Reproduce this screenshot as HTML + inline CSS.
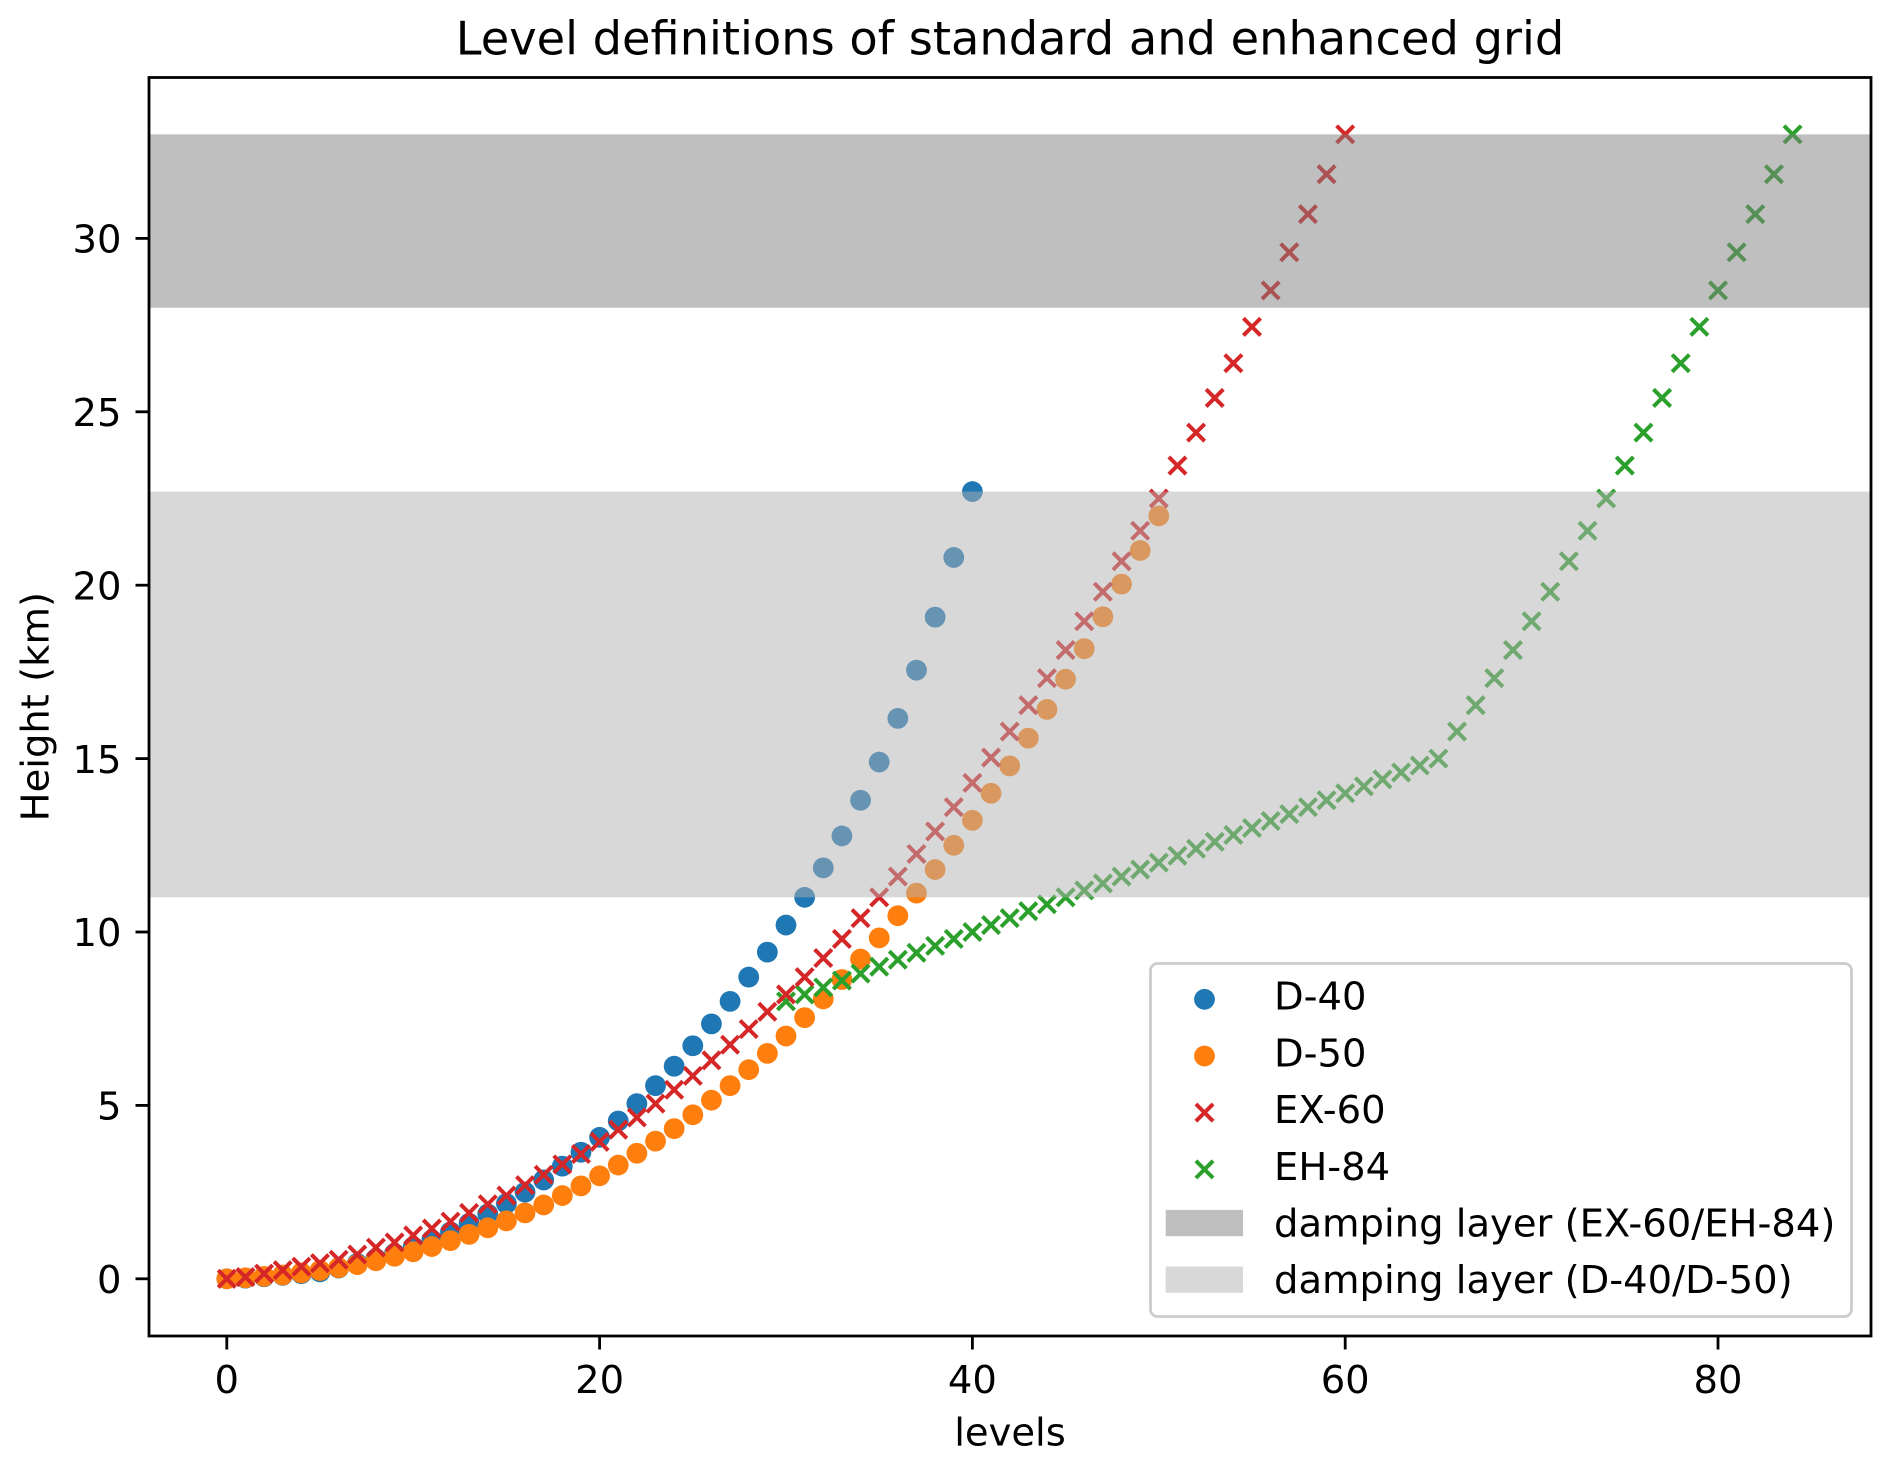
<!DOCTYPE html>
<html lang="en">
<head>
<meta charset="utf-8">
<title>Level definitions of standard and enhanced grid</title>
<style>
html,body{margin:0;padding:0;background:#fff;}
svg{display:block;}
text{font-family:"DejaVu Sans","Liberation Sans",sans-serif;fill:#000;}
</style>
</head>
<body>
<svg id="chart" xmlns="http://www.w3.org/2000/svg" width="1892" height="1465" viewBox="0 0 1892 1465">
  <rect x="0" y="0" width="1892" height="1465" fill="#ffffff"/>
  <text x="1010" y="54.5" font-size="46.3" text-anchor="middle">Level definitions of standard and enhanced grid</text>
  <rect x="149" y="77.5" width="1722" height="1258.5" fill="#ffffff"/>
  <g id="marks"></g>
  <g id="bands"></g>
  <g id="x-axis"></g>
  <g id="y-axis"></g>
  <rect x="149" y="77.5" width="1722" height="1258.5" fill="none" stroke="#000" stroke-width="2.8"/>
  <text x="1010" y="1445.5" font-size="38.5" text-anchor="middle">levels</text>
  <text transform="translate(48.5 706.7) rotate(-90)" font-size="38.5" text-anchor="middle">Height (km)</text>
  <g>
    <rect x="1150.5" y="963.5" width="701" height="353" rx="7" ry="7" fill="#ffffff" fill-opacity="0.8" stroke="#cccccc" stroke-width="2.8"/>
    <circle cx="1204.5" cy="999.3" r="10.4" fill="#1f77b4"/>
    <text x="1274" y="1009.5" font-size="38.5">D-40</text>
    <circle cx="1204.5" cy="1056" r="10.4" fill="#ff7f0e"/>
    <text x="1274" y="1066.3" font-size="38.5">D-50</text>
    <path d="M1195.9 1104L1213.1 1121.2M1195.9 1121.2L1213.1 1104" stroke="#d62728" stroke-width="4" fill="none"/>
    <text x="1274" y="1123" font-size="38.5">EX-60</text>
    <path d="M1195.9 1160.8L1213.1 1178M1195.9 1178L1213.1 1160.8" stroke="#2ca02c" stroke-width="4" fill="none"/>
    <text x="1274" y="1179.8" font-size="38.5">EH-84</text>
    <rect x="1165.7" y="1209.9" width="77.3" height="26.3" fill="#bfbfbf"/>
    <text x="1274" y="1236.5" font-size="38.5">damping layer (EX-60/EH-84)</text>
    <rect x="1165.7" y="1266.5" width="77.3" height="26.3" fill="#d8d8d8"/>
    <text x="1274" y="1293.2" font-size="38.5">damping layer (D-40/D-50)</text>
  </g>
</svg>
<script>
const d40Levels = [0,1,2,3,4,5,6,7,8,9,10,11,12,13,14,15,16,17,18,19,20,21,22,23,24,25,26,27,28,29,30,31,32,33,34,35,36,37,38,39,40];
const d40Heights = [0,0.02,0.06,0.1,0.15,0.2,0.31,0.44,0.58,0.73,0.92,1.12,1.35,1.6,1.87,2.17,2.5,2.85,3.25,3.65,4.08,4.55,5.05,5.57,6.13,6.72,7.35,8.0,8.7,9.42,10.2,11.0,11.85,12.77,13.8,14.9,16.16,17.55,19.08,20.8,22.7];
const d50Levels = [0,1,2,3,4,5,6,7,8,9,10,11,12,13,14,15,16,17,18,19,20,21,22,23,24,25,26,27,28,29,30,31,32,33,34,35,36,37,38,39,40,41,42,43,44,45,46,47,48,49,50];
const d50Heights = [0,0.03,0.07,0.11,0.17,0.24,0.32,0.41,0.52,0.65,0.78,0.93,1.1,1.28,1.47,1.67,1.9,2.13,2.4,2.68,2.97,3.28,3.62,3.97,4.33,4.73,5.15,5.57,6.03,6.5,7.0,7.53,8.07,8.63,9.22,9.83,10.47,11.12,11.8,12.5,13.22,14.0,14.79,15.59,16.42,17.29,18.17,19.09,20.03,21.0,22.0];
const ex60Levels = [0,1,2,3,4,5,6,7,8,9,10,11,12,13,14,15,16,17,18,19,20,21,22,23,24,25,26,27,28,29,30,31,32,33,34,35,36,37,38,39,40,41,42,43,44,45,46,47,48,49,50,51,52,53,54,55,56,57,58,59,60];
const ex60Heights = [0,0.05,0.15,0.25,0.35,0.45,0.55,0.7,0.9,1.05,1.25,1.45,1.65,1.9,2.15,2.4,2.7,3.0,3.3,3.6,3.95,4.3,4.65,5.05,5.45,5.85,6.3,6.75,7.2,7.7,8.2,8.7,9.25,9.8,10.4,11.0,11.6,12.25,12.9,13.6,14.3,15.03,15.78,16.54,17.32,18.13,18.96,19.81,20.69,21.57,22.5,23.45,24.4,25.4,26.4,27.45,28.5,29.6,30.7,31.85,33.0];
const eh84Levels = [30,31,32,33,34,35,36,37,38,39,40,41,42,43,44,45,46,47,48,49,50,51,52,53,54,55,56,57,58,59,60,61,62,63,64,65,66,67,68,69,70,71,72,73,74,75,76,77,78,79,80,81,82,83,84];
const eh84Heights = [8.0,8.2,8.4,8.6,8.8,9.0,9.2,9.4,9.6,9.8,10.0,10.2,10.4,10.6,10.8,11.0,11.2,11.4,11.6,11.8,12.0,12.2,12.4,12.6,12.8,13.0,13.2,13.4,13.6,13.8,14.0,14.2,14.4,14.6,14.8,15.0,15.78,16.54,17.32,18.13,18.96,19.81,20.69,21.57,22.5,23.45,24.4,25.4,26.4,27.45,28.5,29.6,30.7,31.85,33.0];
const xTickValues = [0,20,40,60,80];
const xTickLabels = ["0","20","40","60","80"];
const yTickValues = [0,5,10,15,20,25,30];
const yTickLabels = ["0","5","10","15","20","25","30"];
const dampingUpperKm = [28,33];
const dampingLowerKm = [11,22.7];

const NS = 'http://www.w3.org/2000/svg';
function xScale(v){ return 226.8 + 18.64 * v; }
function yScale(v){ return 1278.8 - 34.68 * v; }

const marks = document.getElementById('marks');
const bands = document.getElementById('bands');
const xAxis = document.getElementById('x-axis');
const yAxis = document.getElementById('y-axis');

function drawCircles(levels, heights, color, name){
  const g = document.createElementNS(NS,'g');
  
  
  levels.forEach(function(l,i){
    const c = document.createElementNS(NS,'circle');
    
    
    c.setAttribute('cx', xScale(l));
    c.setAttribute('cy', yScale(heights[i]));
    c.setAttribute('r', 10.4);
    c.setAttribute('fill', color);
    g.appendChild(c);
  });
  marks.appendChild(g);
}
function drawCrosses(levels, heights, color, name){
  const g = document.createElementNS(NS,'g');
  
  
  const h = 8.6;
  levels.forEach(function(l,i){
    const x = xScale(l), y = yScale(heights[i]);
    const p = document.createElementNS(NS,'path');
    
    
    p.setAttribute('d', 'M'+(x-h)+' '+(y-h)+'L'+(x+h)+' '+(y+h)+'M'+(x-h)+' '+(y+h)+'L'+(x+h)+' '+(y-h));
    p.setAttribute('stroke', color);
    p.setAttribute('stroke-width', 4);
    p.setAttribute('fill', 'none');
    g.appendChild(p);
  });
  marks.appendChild(g);
}
drawCircles(d40Levels, d40Heights, '#1f77b4', 'series-d40');
drawCircles(d50Levels, d50Heights, '#ff7f0e', 'series-d50');
drawCrosses(eh84Levels, eh84Heights, '#2ca02c', 'series-eh84');
drawCrosses(ex60Levels, ex60Heights, '#d62728', 'series-ex60');

function drawBand(range, color, name){
  const r = document.createElementNS(NS,'rect');
  
  
  r.setAttribute('x', 149);
  r.setAttribute('width', 1722);
  r.setAttribute('y', yScale(range[1]));
  r.setAttribute('height', yScale(range[0]) - yScale(range[1]));
  r.setAttribute('fill', color);
  r.setAttribute('fill-opacity', 0.5);
  bands.appendChild(r);
}
drawBand(dampingUpperKm, 'rgb(128,128,128)', 'damping-band-ex60-eh84');
drawBand(dampingLowerKm, 'rgb(178,178,178)', 'damping-band-d40-d50');

xTickValues.forEach(function(v,i){
  const x = xScale(v);
  const t = document.createElementNS(NS,'line');
  
  
  t.setAttribute('x1', x); t.setAttribute('x2', x);
  t.setAttribute('y1', 1336); t.setAttribute('y2', 1349.5);
  t.setAttribute('stroke', '#000'); t.setAttribute('stroke-width', 2.8);
  xAxis.appendChild(t);
  const l = document.createElementNS(NS,'text');
  
  
  l.setAttribute('x', x); l.setAttribute('y', 1393);
  l.setAttribute('font-size', 38.5);
  l.setAttribute('text-anchor', 'middle');
  l.textContent = xTickLabels[i];
  xAxis.appendChild(l);
});
yTickValues.forEach(function(v,i){
  const y = yScale(v);
  const t = document.createElementNS(NS,'line');
  
  
  t.setAttribute('x1', 135.5); t.setAttribute('x2', 149);
  t.setAttribute('y1', y); t.setAttribute('y2', y);
  t.setAttribute('stroke', '#000'); t.setAttribute('stroke-width', 2.8);
  yAxis.appendChild(t);
  const l = document.createElementNS(NS,'text');
  
  
  l.setAttribute('x', 121.5); l.setAttribute('y', y + 14.2);
  l.setAttribute('font-size', 38.5);
  l.setAttribute('text-anchor', 'end');
  l.textContent = yTickLabels[i];
  yAxis.appendChild(l);
});
</script>
</body>
</html>
